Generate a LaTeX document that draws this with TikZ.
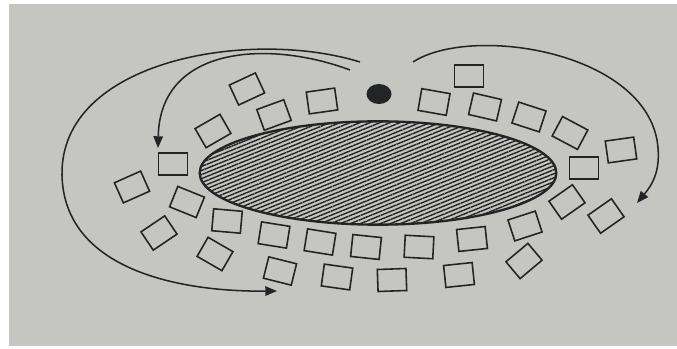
\documentclass[tikz,border=0pt]{standalone}
\usepackage{tikz}
\usetikzlibrary{arrows.meta, shapes.geometric, patterns.meta}
\definecolor{paper}{RGB}{197,198,193}
\definecolor{ink}{RGB}{35,36,38}

\begin{document}
\begin{tikzpicture}[
    x=0.03cm, y=-0.03cm,
    sq/.style={draw=ink, line width=1.35pt, minimum width=0.86cm, minimum height=0.66cm, inner sep=0pt},
    hatched/.style={ellipse, draw=ink, line width=2pt, minimum width=10.7cm, minimum height=3.1cm, inner sep=0pt,
        pattern={Lines[angle=22, distance=3.2pt, line width=1.2pt]}, pattern color=ink},
    arr/.style={draw=ink, line width=1.3pt, -{Triangle[length=10pt, width=8pt]}}
]
\useasboundingbox (0,0) rectangle (677,349);
\fill[white] (0,0) rectangle (677,349);
\fill[paper] (9,4) rectangle (677,346);

% central body and the dot
\node[hatched] (cell) at (378,173) {};
\node[ellipse, fill=ink, minimum width=0.75cm, minimum height=0.6cm, inner sep=0pt] (dot) at (379,94) {};

% small squares around the body
\foreach \x/\y/\a [count=\i] in {247/89/25, 274/115/20, 213/131/30, 173/164/0, 322/101/8,
    469/76/0, 434/102/-10, 485/107/-13, 529/117/-18, 570/133/-28, 621/150/8, 584/168/0,
    132/187/24, 187/202/-22, 227/221/-5, 159/233/34, 215/254/-30,
    274/235/-9, 320/242/-9, 280/271/-14, 337/277/-8, 366/247/-6, 419/247/-3, 472/239/6,
    525/226/18, 567/202/35, 606/216/35, 524/261/40, 459/275/6, 392/280/2}
    \node[sq, rotate=\a] (sq\i) at (\x,\y) {};

% flow arrows
\coordinate (outS) at (360,62);
\coordinate (outE) at (277,291);
\coordinate (inS) at (350,70);
\coordinate (inE) at (158,148);
\coordinate (rtS) at (413,62);
\coordinate (rtE) at (637,203);
\draw[arr] (outS) .. controls (250,28) and (60,60) .. (62,175) .. controls (64,270) and (180,292) .. (outE);
\draw[arr] (inS) .. controls (270,40) and (160,45) .. (inE);
\draw[arr] (rtS) .. controls (470,25) and (640,50) .. (657,140) .. controls (662,170) and (652,185) .. (rtE);
\end{tikzpicture}
\end{document}
